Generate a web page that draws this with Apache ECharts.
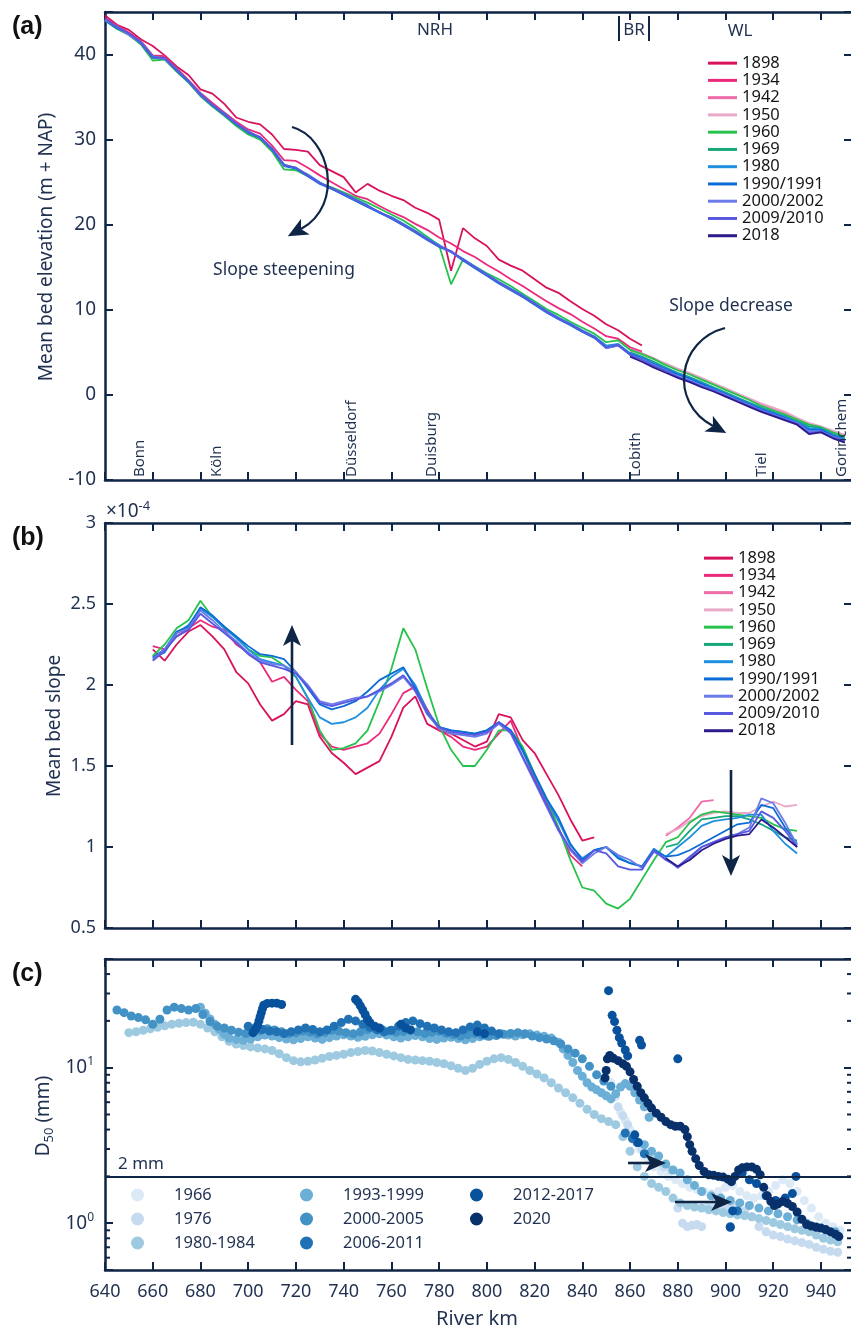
<!DOCTYPE html>
<html>
<head>
<meta charset="utf-8">
<script src="https://cdn.jsdelivr.net/npm/echarts@6/dist/echarts.min.js"></script>
<style>
html, body { margin: 0; padding: 0; background: #fff; }
#chart { width: 851px; height: 1331px; }
</style>
</head>
<body>
<div id="chart"></div>
<script>
// river km grids
const KM_A = [640,645,650,655,660,665,670,675,680,685,690,695,700,705,710,715,720,725,730,735,740,745,750,755,760,765,770,775,780,785,790,795,800,805,810,815,820,825,830,835,840,845,850,855,860,865,870,875,880,885,890,895,900,905,910,915,920,925,930,935,940,945,950];
const KM_A_DE = [640,645,650,655,660,665,670,675,680,685,690,695,700,705,710,715,720,725,730,735,740,745,750,755,760,765,770,775,780,785,790,795,800,805,810,815,820,825,830,835,840,845,850,855,860,865];
const KM_A_NL = [860,865,870,875,880,885,890,895,900,905,910,915,920,925,930,935,940,945,950];

// (a) mean bed elevation, m + NAP
const ELEV_1898 = [44.6,43.5,42.9,41.8,41.0,39.9,38.6,37.6,35.9,35.4,34.2,32.6,32.1,31.8,30.6,28.9,28.8,28.6,27.0,26.3,25.6,23.8,24.8,24.0,23.4,22.9,22.0,21.4,20.6,14.6,19.6,18.4,17.5,15.9,15.2,14.6,13.6,12.6,12.0,11.0,10.1,9.3,8.3,7.6,6.6,5.8];
const ELEV_1934 = [44.3,43.4,42.6,41.6,39.9,39.8,38.4,37.0,35.5,34.3,33.2,32.1,31.2,30.7,29.3,27.6,27.5,26.7,25.8,25.0,24.2,23.4,23.0,22.2,21.5,20.9,20.1,19.4,18.5,17.8,16.9,16.2,15.3,14.5,13.6,12.8,11.9,11.0,10.2,9.5,8.6,7.8,6.9,6.6,5.6,5.1];
const ELEV_1942 = [5.4,4.9,4.3,3.6,3.0,2.5,1.9,1.3,0.7,0.1,-0.5,-1.1,-1.6,-2.1,-2.8,-3.4,-3.8,-4.3,-4.8];
const ELEV_1950 = [5.2,4.8,4.2,3.7,3.1,2.6,2.0,1.4,0.8,0.2,-0.4,-1.0,-1.5,-2.0,-2.7,-3.3,-3.7,-4.2,-4.7];
const ELEV_1960 = [44.0,43.0,42.3,41.2,39.3,39.4,38.0,36.7,35.1,33.9,32.8,31.6,30.6,30.0,28.6,26.5,26.4,25.7,24.9,24.4,23.8,23.2,22.6,21.9,21.2,20.5,19.6,18.6,17.6,13.0,15.9,15.1,14.3,13.6,12.8,11.9,11.0,10.1,9.4,8.6,7.9,7.2,6.2,6.4,5.3,4.8,4.2,3.5,2.9,2.4,1.8,1.2,0.6,0.0,-0.6,-1.3,-1.8,-2.3,-2.9,-3.5,-3.8,-4.4,-4.9];
const ELEV_1969 = [5.0,4.5,3.9,3.2,2.6,2.1,1.5,0.9,0.3,-0.3,-0.9,-1.5,-2.0,-2.5,-3.1,-3.7,-3.9,-4.6,-5.1];
const ELEV_1980 = [44.1,43.3,42.4,41.5,39.8,39.5,38.3,36.8,35.4,34.0,33.1,31.8,31.0,30.2,29.0,27.1,26.6,25.9,25.0,24.2,23.7,23.0,22.3,21.4,20.9,20.1,19.3,18.4,17.6,16.8,16.0,15.1,14.2,13.3,12.5,11.7,10.8,9.9,9.1,8.4,7.6,6.9,5.8,6.0,4.9,4.4,3.7,3.1,2.5,2.0,1.4,0.8,0.2,-0.4,-1.0,-1.6,-2.1,-2.6,-3.2,-3.9,-4.0,-4.7,-5.2];
const ELEV_1990 = [44.0,43.1,42.4,41.3,39.6,39.5,38.1,36.8,35.2,34.0,32.9,31.8,30.8,30.2,28.8,26.9,26.6,25.7,24.8,24.2,23.5,22.8,22.1,21.4,20.7,19.9,19.1,18.2,17.4,16.8,15.8,14.9,14.0,13.1,12.3,11.5,10.6,9.7,8.9,8.2,7.4,6.7,5.5,5.8,4.8,4.3,3.6,3.0,2.4,1.9,1.3,0.7,0.1,-0.5,-1.1,-1.7,-2.2,-2.7,-3.3,-4.1,-4.1,-4.8,-5.3];
const ELEV_2000 = [44.1,43.2,42.3,41.4,39.7,39.5,38.2,36.9,35.2,34.1,33.0,31.9,30.9,30.3,28.9,27.0,26.7,25.8,24.9,24.3,23.6,22.9,22.2,21.5,20.8,20.0,19.2,18.3,17.5,16.8,15.9,15.0,14.1,13.2,12.4,11.6,10.7,9.8,9.0,8.3,7.5,6.8,5.5,5.8,4.7,4.2,3.5,2.9,2.2,1.7,1.1,0.6,0.0,-0.6,-1.2,-1.8,-2.3,-2.8,-3.3,-4.3,-4.3,-4.9,-5.4];
const ELEV_2009 = [44.2,43.2,42.5,41.4,39.7,39.6,38.2,36.9,35.3,34.1,33.0,31.9,30.9,30.3,28.9,27.0,26.7,25.8,24.9,24.3,23.6,22.9,22.2,21.5,20.8,20.0,19.2,18.3,17.5,16.9,15.9,15.0,14.1,13.2,12.4,11.6,10.7,9.8,9.0,8.3,7.5,6.8,5.6,5.9,4.7,4.1,3.4,2.8,2.1,1.6,1.0,0.5,-0.1,-0.7,-1.3,-1.9,-2.4,-2.9,-3.4,-4.5,-4.3,-5.0,-5.5];
const ELEV_2018 = [4.5,3.9,3.2,2.6,2.0,1.5,0.9,0.4,-0.2,-0.8,-1.4,-2.0,-2.5,-3.0,-3.5,-4.6,-4.4,-5.1,-5.6];

// (b) mean bed slope, x 1e-4
const KM_B = [660,665,670,675,680,685,690,695,700,705,710,715,720,725,730,735,740,745,750,755,760,765,770,775,780,785,790,795,800,805,810,815,820,825,830,835,840,845,850,855,860,865,870,875,880,885,890,895,900,905,910,915,920,925,930];
const KM_B_NL = [875,880,885,890,895,900,905,910,915,920,925,930];
const SLOPE_1898 = [2.22,2.15,2.25,2.33,2.37,2.30,2.22,2.08,2.01,1.88,1.78,1.82,1.90,1.88,1.68,1.58,1.52,1.45,1.49,1.53,1.68,1.86,1.93,1.76,1.72,1.70,1.66,1.62,1.65,1.82,1.80,1.66,1.58,1.45,1.32,1.17,1.04,1.06];
const SLOPE_1934 = [2.24,2.22,2.30,2.35,2.40,2.36,2.34,2.25,2.20,2.14,2.02,2.05,1.97,1.90,1.70,1.62,1.60,1.62,1.64,1.70,1.82,1.95,1.99,1.85,1.72,1.68,1.62,1.60,1.62,1.70,1.78,1.60,1.42,1.28,1.12,0.95,0.88];
const SLOPE_1942 = [1.07,1.12,1.18,1.28,1.29];
const SLOPE_1950 = [1.08,1.11,1.16,1.19,1.21,1.22,1.21,1.21,1.25,1.28,1.25,1.26];
const SLOPE_1960 = [2.18,2.25,2.35,2.40,2.52,2.42,2.36,2.30,2.22,2.18,2.17,2.12,2.05,1.92,1.72,1.60,1.61,1.64,1.72,1.90,2.10,2.35,2.22,1.98,1.75,1.60,1.50,1.50,1.60,1.72,1.72,1.62,1.45,1.30,1.12,0.92,0.75,0.73,0.65,0.62,0.68,0.80,0.92,1.03,1.06,1.15,1.20,1.22,1.21,1.20,1.19,1.18,1.14,1.11,1.10];
const SLOPE_1969 = [1.00,1.02,1.10,1.17,1.18,1.19,1.19,1.17,1.14,1.10,1.06,1.04];
const SLOPE_1980 = [2.17,2.20,2.32,2.37,2.47,2.42,2.35,2.29,2.22,2.16,2.14,2.12,2.05,1.92,1.80,1.76,1.77,1.80,1.86,1.97,2.05,2.10,2.00,1.84,1.74,1.72,1.71,1.70,1.72,1.77,1.72,1.59,1.44,1.29,1.16,1.01,0.93,0.98,1.00,0.94,0.90,0.88,0.99,0.94,1.00,1.06,1.13,1.16,1.17,1.18,1.20,1.20,1.10,1.02,0.96];
const SLOPE_1990 = [2.17,2.22,2.33,2.36,2.48,2.43,2.36,2.30,2.24,2.19,2.18,2.16,2.08,1.98,1.88,1.85,1.87,1.90,1.96,2.03,2.07,2.11,1.98,1.82,1.74,1.72,1.71,1.70,1.72,1.77,1.72,1.60,1.45,1.30,1.18,1.02,0.92,0.98,1.00,0.93,0.90,0.88,0.98,0.94,0.95,0.98,1.02,1.06,1.10,1.14,1.15,1.26,1.24,1.12,1.02];
const SLOPE_2000 = [2.16,2.22,2.32,2.35,2.46,2.40,2.33,2.27,2.20,2.15,2.13,2.12,2.08,2.00,1.90,1.88,1.90,1.92,1.93,1.96,2.00,2.05,1.96,1.82,1.73,1.70,1.69,1.68,1.70,1.76,1.70,1.55,1.40,1.25,1.10,0.98,0.90,0.96,1.00,0.95,0.92,0.87,0.97,0.93,0.87,0.93,1.00,1.03,1.06,1.08,1.12,1.30,1.27,1.15,1.01];
const SLOPE_2009 = [2.15,2.21,2.30,2.34,2.44,2.38,2.32,2.26,2.19,2.14,2.12,2.10,2.07,1.99,1.89,1.87,1.89,1.91,1.93,1.97,2.01,2.06,1.97,1.83,1.74,1.71,1.70,1.69,1.71,1.77,1.71,1.56,1.41,1.26,1.11,0.99,0.91,0.98,0.96,0.88,0.86,0.86,0.98,0.92,0.88,0.94,1.00,1.03,1.06,1.08,1.10,1.22,1.18,1.10,1.00];
const SLOPE_2018 = [0.93,0.88,0.92,0.98,1.02,1.05,1.07,1.08,1.17,1.12,1.06,1.00];

// (c) D50 in mm, [river km, D50]
const D50_1966 = [[852,8.0],[854,6.5],[856,5.2],[858,4.6],[860,4.0],[862,3.4],[864,3.0],[866,2.7],[868,2.5],[870,2.3],[873,2.15],[876,2.0],[879,1.9],[882,1.8],[885,1.7],[888,1.65],[891,1.6],[894,1.55],[897,1.6],[900,1.7],[903,1.75],[906,1.6],[909,1.5],[912,1.45],[915,1.5],[918,1.6],[921,1.75],[924,1.9],[927,1.8],[930,1.6],[933,1.4],[936,1.25],[939,1.1],[942,1.0],[945,0.95],[948,0.9]];
const D50_1976 = [[855,5.6],[857,4.9],[859,4.3],[861,3.7],[863,3.3],[865,3.0],[867,2.8],[869,2.6],[871,2.5],[874,2.3],[877,2.2],[880,1.25],[882,1.0],[884,0.95],[886,0.97],[888,0.98],[890,0.95],[893,1.3],[896,1.35],[899,1.3],[902,1.25],[905,1.3],[908,1.2],[911,1.1],[914,0.95],[917,0.88],[920,0.84],[923,0.82],[926,0.79],[929,0.77],[932,0.75],[935,0.73],[938,0.7],[941,0.68],[944,0.66],[947,0.65]];
const D50_1980 = [[650,16.8],[653,17.0],[656,17.4],[659,17.8],[662,18.2],[665,18.6],[668,19.0],[671,19.3],[674,19.5],[677,19.6],[680,19.0],[683,18.0],[686,17.0],[689,15.8],[692,14.8],[695,14.2],[698,13.9],[701,13.6],[704,13.4],[707,13.2],[710,12.9],[713,12.3],[716,11.6],[719,11.1],[722,10.9],[725,11.0],[728,11.2],[731,11.5],[734,11.8],[737,12.0],[740,12.2],[743,12.5],[746,12.7],[749,12.9],[752,12.8],[755,12.5],[758,12.2],[761,11.9],[764,11.6],[767,11.3],[770,11.2],[773,11.1],[776,11.0],[779,10.8],[782,10.6],[785,10.3],[788,9.9],[791,9.6],[794,9.9],[797,10.5],[800,11.0],[803,11.4],[806,11.6],[809,11.3],[812,10.8],[815,10.2],[818,9.6],[821,9.1],[824,8.6],[827,8.0],[830,7.4],[833,6.9],[836,6.4],[839,5.9],[842,5.4],[845,5.0],[848,4.7],[851,4.5],[854,4.3],[857,3.6],[860,2.9],[863,2.3],[866,2.0],[869,1.8],[872,1.7],[875,1.6],[878,1.45],[881,1.35],[884,1.3],[887,1.27],[890,1.25],[893,1.22],[896,1.2],[899,1.17],[902,1.15],[905,1.13],[908,1.12],[911,1.1],[914,1.07],[917,1.04],[920,1.01],[923,0.98],[926,0.95],[929,0.92],[932,0.9],[935,0.88],[938,0.84],[941,0.8],[944,0.78],[947,0.76]];
const D50_1993 = [[680,24.5],[682,22.4],[684,20.6],[686,19.0],[688,17.6],[690,16.4],[692,15.5],[695,15.2],[698,15.0],[701,15.3],[704,15.8],[707,16.2],[710,16.0],[713,15.6],[716,15.3],[719,15.1],[722,15.4],[725,15.8],[728,15.5],[731,15.2],[734,15.6],[737,16.0],[740,16.3],[743,16.0],[746,15.7],[749,15.9],[752,16.3],[755,16.5],[758,16.2],[761,15.8],[764,15.5],[767,15.8],[770,16.1],[773,15.8],[776,15.4],[779,15.2],[782,15.5],[785,15.7],[788,15.4],[791,15.1],[794,15.4],[797,15.8],[800,16.0],[803,16.3],[806,16.5],[809,16.2],[812,16.0],[815,16.3],[818,16.5],[821,16.2],[824,15.9],[827,15.5],[830,14.6],[832,13.2],[834,12.0],[836,10.8],[838,9.6],[840,8.8],[842,8.0],[844,7.5],[846,7.2],[848,6.9],[850,6.6],[852,6.3],[854,6.8],[856,7.5],[858,7.9],[860,7.6],[862,6.9],[864,6.2],[866,5.6],[868,4.8],[866,3.2],[869,2.9],[872,2.7],[875,2.4],[878,2.2],[881,2.1],[884,1.9],[887,1.75],[890,1.6],[894,1.5],[898,1.45],[902,1.4],[906,1.35],[910,1.3],[914,1.25],[918,1.2],[922,1.15],[926,1.1],[930,1.05],[934,1.0],[938,0.95],[942,0.9],[946,0.88]];
const D50_2000 = [[645,23.5],[648,22.6],[651,21.5],[654,21.0],[657,20.3],[660,19.0],[663,20.5],[666,23.5],[669,24.5],[672,24.0],[675,23.5],[678,24.0],[681,22.0],[684,19.8],[687,18.5],[690,18.0],[693,17.4],[696,16.9],[699,16.6],[702,16.8],[705,17.3],[708,17.8],[711,17.5],[714,17.0],[717,16.6],[720,16.8],[723,17.2],[726,16.9],[729,16.5],[732,16.9],[735,17.4],[738,17.2],[741,16.8],[744,16.5],[747,17.0],[750,17.6],[753,18.0],[756,17.6],[759,17.2],[762,16.9],[765,17.1],[768,17.4],[771,17.0],[774,16.6],[777,16.9],[780,17.1],[783,16.6],[786,16.3],[789,16.0],[792,16.3],[795,16.6],[798,16.2],[801,15.9],[804,16.1],[807,16.4],[810,16.6],[813,16.8],[816,16.5],[819,16.0],[822,15.6],[825,15.3],[828,14.9],[831,14.2],[834,13.2],[837,12.4],[840,11.4],[843,10.2],[846,9.0],[849,8.2],[852,7.6]];
const D50_2006 = [[700,18.5],[703,18.0],[706,17.6],[709,17.2],[712,17.0],[715,16.6],[718,17.0],[721,17.5],[724,18.0],[727,17.6],[730,17.0],[733,17.5],[736,18.5],[739,19.5],[742,20.5],[745,20.0],[748,19.0],[751,18.2],[754,17.5],[757,17.0],[760,17.4],[763,18.5],[766,19.5],[769,20.0],[772,19.2],[775,18.5],[778,18.0],[781,17.5],[784,17.0],[787,16.8],[790,17.5],[793,18.3],[796,18.8],[799,18.0],[802,17.2],[805,16.5],[858,3.8],[861,3.5],[863,3.3],[866,2.8],[902,0.95],[905,1.2]];
const D50_2012 = [[702,16.8],[703,17.6],[704,18.8],[704.5,20.0],[705,21.3],[705.5,22.6],[706,24.0],[706.5,25.2],[708,25.9],[710,26.0],[712,26.0],[714,25.5],[745,27.5],[746,26.5],[747,25.0],[748,23.5],[749,22.0],[750,20.5],[751,19.5],[753,18.5],[755,18.0],[764,19.0],[766,18.0],[768,17.5],[796,17.0],[799,16.5],[851,31.3],[852.5,21.7],[853.5,19.8],[854.5,17.4],[855.5,15.6],[856.5,14.4],[858,13.0],[859,11.9],[864,15.0],[864.8,14.0],[880,11.4],[862,3.7],[863.5,3.3],[903,1.2],[902,0.94],[907,2.1],[910,1.9],[913,1.8],[917,1.5],[921,1.4],[925,1.45],[928,1.55],[929.5,2.0]];
const D50_2020 = [[849.5,8.6],[850,9.6],[850.5,11.4],[851.5,12.0],[853,11.5],[855,11.1],[857,10.6],[858.5,10.2],[860,9.4],[861.5,8.4],[863,7.6],[864.5,6.9],[866,6.4],[867.5,5.9],[869,5.5],[871,5.1],[873,4.8],[875,4.5],[877,4.3],[879,4.2],[881,4.2],[883,4.0],[884,3.6],[885,3.2],[886,2.9],[887.5,2.6],[889,2.35],[891,2.15],[893,2.05],[895,2.03],[897,2.0],[899,1.98],[901,1.92],[902.5,1.85],[904,2.0],[905.5,2.2],[907,2.27],[909,2.3],[911,2.3],[913,2.22],[914.5,2.05],[916,1.7],[917.5,1.5],[919,1.38],[920.5,1.3],[922,1.33],[924,1.38],[926,1.34],[928,1.28],[930,1.18],[932,1.06],[934,0.98],[936,0.96],[938,0.94],[940,0.93],[942,0.91],[944,0.88],[946,0.85],[947.5,0.82]];

const TWO_MM = 2;
const MINOR_D50 = [0.6,0.7,0.8,0.9,2,3,4,5,6,7,8,9,20,30,40];

const YEARS = ['1898','1934','1942','1950','1960','1969','1980','1990/1991','2000/2002','2009/2010','2018'];
const PERIODS = ['1966','1976','1980-1984','1993-1999','2000-2005','2006-2011','2012-2017','2020'];

// styles
const YEAR_COLORS = ['#d8125c','#ec2a7c','#f06ca8','#e8a9c8','#27c24c','#17a77a','#1f8fdf','#0b6cd6','#6b7ce9','#5757e0','#2d1b8c'];
const PERIOD_COLORS = ['#dce9f6','#c6dbef','#9ecae1','#6baed6','#4292c6','#2171b5','#08519c','#08306b'];
const FONT = '"Noto Sans", "DejaVu Sans", sans-serif';
const NAVY = '#0f2545';
const INK = '#1f3050';

function pairs(km, vals) {
    return vals.map(function (v, i) { return [km[i], v]; });
}

const elevData = [
    [KM_A_DE, ELEV_1898], [KM_A_DE, ELEV_1934], [KM_A_NL, ELEV_1942], [KM_A_NL, ELEV_1950],
    [KM_A, ELEV_1960], [KM_A_NL, ELEV_1969], [KM_A, ELEV_1980], [KM_A, ELEV_1990],
    [KM_A, ELEV_2000], [KM_A, ELEV_2009], [KM_A_NL, ELEV_2018]
];
const slopeData = [
    [KM_B, SLOPE_1898], [KM_B, SLOPE_1934], [KM_B_NL, SLOPE_1942], [KM_B_NL, SLOPE_1950],
    [KM_B, SLOPE_1960], [KM_B_NL, SLOPE_1969], [KM_B, SLOPE_1980], [KM_B, SLOPE_1990],
    [KM_B, SLOPE_2000], [KM_B, SLOPE_2009], [KM_B_NL, SLOPE_2018]
];
const d50Data = [D50_1966, D50_1976, D50_1980, D50_1993, D50_2000, D50_2006, D50_2012, D50_2020];

function xAxisFor(gridIndex, position, showLabel) {
    return {
        type: 'value', gridIndex: gridIndex, position: position,
        min: 640, max: 953, interval: 20,
        axisLine: { show: true, onZero: false, lineStyle: { color: NAVY, width: 2.5 } },
        axisTick: { show: true, inside: true, length: 8, lineStyle: { color: NAVY, width: 2 } },
        axisLabel: {
            show: showLabel, color: INK, fontSize: 18, fontFamily: FONT, margin: 13,
            formatter: function (v) { return v % 20 === 0 ? String(v) : ''; }
        },
        splitLine: { show: false }
    };
}

function yAxisFor(gridIndex, position, min, max, interval, showLabel, fontSize) {
    return {
        type: 'value', gridIndex: gridIndex, position: position,
        min: min, max: max, interval: interval,
        axisLine: { show: true, onZero: false, lineStyle: { color: NAVY, width: 2.5 } },
        axisTick: { show: true, inside: true, length: 8, lineStyle: { color: NAVY, width: 2 } },
        axisLabel: {
            show: showLabel, color: INK, fontSize: fontSize, fontFamily: FONT, margin: 9,
            formatter: function (v) {
                const k = Math.round((v - min) / interval);
                return Math.abs(min + k * interval - v) < 1e-9 ? String(+v.toFixed(2)) : '';
            }
        },
        splitLine: { show: false }
    };
}

function logAxisFor(gridIndex, position, showLabel) {
    return {
        type: 'log', logBase: 10, gridIndex: gridIndex, position: position,
        min: 0.5, max: 50,
        axisLine: { show: true, onZero: false, lineStyle: { color: NAVY, width: 2.5 } },
        axisTick: { show: true, inside: true, length: 8, lineStyle: { color: NAVY, width: 2 } },
        axisLabel: {
            show: showLabel, margin: 11, fontFamily: FONT,
            formatter: function (v) {
                const lg = Math.log10(v);
                if (Math.abs(lg - Math.round(lg)) < 1e-6) return '{b|10}{s|' + Math.round(lg) + '}';
                return '';
            },
            rich: {
                b: { fontSize: 19, color: INK, fontFamily: FONT, lineHeight: 24 },
                s: { fontSize: 12, color: INK, fontFamily: FONT, verticalAlign: 'top' }
            }
        },
        splitLine: { show: false }
    };
}

const series = [];
elevData.forEach(function (d, i) {
    series.push({
        name: YEARS[i], type: 'line', xAxisIndex: 0, yAxisIndex: 0,
        data: pairs(d[0], d[1]), showSymbol: false, symbol: 'none',
        lineStyle: { color: YEAR_COLORS[i], width: 1.8 }, itemStyle: { color: YEAR_COLORS[i] },
        emphasis: { disabled: true }, z: 2 + i * 0.01
    });
});
slopeData.forEach(function (d, i) {
    series.push({
        name: YEARS[i], type: 'line', xAxisIndex: 2, yAxisIndex: 2,
        data: pairs(d[0], d[1]), showSymbol: false, symbol: 'none',
        lineStyle: { color: YEAR_COLORS[i], width: 1.8 }, itemStyle: { color: YEAR_COLORS[i] },
        emphasis: { disabled: true }, z: 2 + i * 0.01
    });
});
d50Data.forEach(function (d, i) {
    const s = {
        name: PERIODS[i], type: 'scatter', xAxisIndex: 4, yAxisIndex: 4,
        data: d, symbol: 'circle', symbolSize: 9,
        itemStyle: { color: PERIOD_COLORS[i], opacity: 1 },
        emphasis: { disabled: true }
    };
    if (i === d50Data.length - 1) {
        s.markLine = {
            silent: true, symbol: ['none', 'none'], label: { show: false },
            lineStyle: { color: NAVY, width: 2, type: 'solid' },
            data: [{ yAxis: TWO_MM }]
        };
    }
    series.push(s);
});
// minor log ticks on both sides of panel (c)
series.push({
    type: 'custom', xAxisIndex: 4, yAxisIndex: 4, silent: true, clip: false,
    data: MINOR_D50.map(function (v) { return [640, v]; }),
    renderItem: function (params, api) {
        const l = api.coord([640, api.value(1)]);
        const r = api.coord([953, api.value(1)]);
        return {
            type: 'group', children: [
                { type: 'line', shape: { x1: l[0], y1: l[1], x2: l[0] + 5, y2: l[1] }, style: { stroke: NAVY, lineWidth: 2 } },
                { type: 'line', shape: { x1: r[0] - 5, y1: r[1], x2: r[0], y2: r[1] }, style: { stroke: NAVY, lineWidth: 2 } }
            ]
        };
    }
});

function lineLegend(top, left) {
    return {
        orient: 'vertical', left: left, top: top, icon: 'rect', padding: 0,
        itemWidth: 29, itemHeight: 3, itemGap: 0, selectedMode: false,
        textStyle: { fontSize: 16.5, lineHeight: 17.26, color: '#161616', fontFamily: FONT },
        data: YEARS
    };
}
function dotLegend(names, left) {
    return {
        orient: 'vertical', left: left, top: 1183, icon: 'circle', padding: 0,
        itemWidth: 13, itemHeight: 13, itemGap: 0, selectedMode: false,
        textStyle: { fontSize: 16.5, lineHeight: 24, color: INK, fontFamily: FONT, padding: [0, 0, 0, 25] },
        data: names
    };
}

function arrowHead(tx, ty, ang, len, hw) {
    const c = Math.cos(ang), s = Math.sin(ang);
    const bx = tx - len * c, by = ty - len * s;
    const nx = tx - 0.75 * len * c, ny = ty - 0.75 * len * s;
    return {
        type: 'polygon', silent: true, z: 100,
        shape: { points: [[tx, ty], [bx - hw * s, by + hw * c], [nx, ny], [bx + hw * s, by - hw * c]] },
        style: { fill: NAVY }
    };
}
function straightArrow(x1, y1, x2, y2) {
    const ang = Math.atan2(y2 - y1, x2 - x1);
    return [
        { type: 'line', silent: true, z: 100, shape: { x1: x1, y1: y1, x2: x2 - 14 * Math.cos(ang), y2: y2 - 14 * Math.sin(ang) }, style: { stroke: NAVY, lineWidth: 2.6 } },
        arrowHead(x2, y2, ang, 21, 9)
    ];
}
function curvedArrow(p) {
    const ang = Math.atan2(p[7] - p[5], p[6] - p[4]);
    return [
        { type: 'bezierCurve', silent: true, z: 100, shape: { x1: p[0], y1: p[1], cpx1: p[2], cpy1: p[3], cpx2: p[4], cpy2: p[5], x2: p[6], y2: p[7] }, style: { stroke: NAVY, lineWidth: 2.2, fill: null } },
        arrowHead(p[6] + 15 * Math.cos(ang), p[7] + 15 * Math.sin(ang), ang, 20, 9)
    ];
}
function label(x, y, text, size, extra) {
    const st = { text: text, fill: INK, fontSize: size, fontFamily: FONT, align: 'center', verticalAlign: 'middle' };
    Object.assign(st, extra || {});
    return { type: 'text', x: x, y: y, z: 100, silent: true, style: st };
}
function vlabel(x, y, text, size) {
    return { type: 'text', x: x, y: y, z: 100, rotation: Math.PI / 2, silent: true,
        style: { text: text, fill: INK, fontSize: size, fontFamily: FONT, align: 'left', verticalAlign: 'middle' } };
}

const BOLD = { fill: '#111', fontWeight: 'bold', fontFamily: '"Liberation Sans", Arial, sans-serif', align: 'left' };
const graphics = [
    label(12, 27, '(a)', 25, BOLD),
    label(12, 538, '(b)', 25, BOLD),
    label(12, 974, '(c)', 25, BOLD),
    { type: 'text', x: 47, y: 247, rotation: Math.PI / 2, silent: true,
      style: { text: 'Mean bed elevation (m + NAP)', fill: INK, fontSize: 19, fontFamily: FONT, align: 'center', verticalAlign: 'middle' } },
    { type: 'text', x: 55, y: 726, rotation: Math.PI / 2, silent: true,
      style: { text: 'Mean bed slope', fill: INK, fontSize: 19, fontFamily: FONT, align: 'center', verticalAlign: 'middle' } },
    { type: 'text', x: 44, y: 1116, rotation: Math.PI / 2, silent: true,
      style: { text: '{a|D}{s|50}{a| (mm)}', fill: INK, fontFamily: FONT, align: 'center', verticalAlign: 'middle',
        rich: { a: { fontSize: 19, fill: INK, fontFamily: FONT, lineHeight: 24 }, s: { fontSize: 13, fill: INK, fontFamily: FONT, verticalAlign: 'bottom' } } } },
    label(477, 1319, 'River km', 20),
    { type: 'text', x: 106, y: 512, silent: true,
      style: { text: '{a|×10}{s|-4}', fill: INK, fontFamily: FONT, align: 'left', verticalAlign: 'middle',
        rich: { a: { fontSize: 19, fill: INK, fontFamily: FONT, lineHeight: 24 }, s: { fontSize: 13, fill: INK, fontFamily: FONT, verticalAlign: 'top' } } } },
    label(435, 30, 'NRH', 17),
    label(634, 30, 'BR', 17),
    label(740, 31, 'WL', 17),
    { type: 'line', silent: true, shape: { x1: 619, y1: 16, x2: 619, y2: 41 }, style: { stroke: NAVY, lineWidth: 2 } },
    { type: 'line', silent: true, shape: { x1: 649, y1: 16, x2: 649, y2: 41 }, style: { stroke: NAVY, lineWidth: 2 } },
    vlabel(139.5, 477, 'Bonn', 15),
    vlabel(217, 477, 'Köln', 15),
    vlabel(352, 477, 'Düsseldorf', 15),
    vlabel(432, 477, 'Duisburg', 15),
    vlabel(636, 477, 'Lobith', 15),
    vlabel(762, 477, 'Tiel', 15),
    vlabel(842, 477, 'Gorinchem', 15),
    label(284, 270, 'Slope steepening', 17.5),
    label(731, 306, 'Slope decrease', 17.5),
    label(141, 1164, '2 mm', 17)
]
.concat(curvedArrow([292, 127, 330, 137, 345, 205, 301, 229]))
.concat(curvedArrow([725, 328, 678, 340, 668, 402, 713, 426]))
.concat(straightArrow(292, 745, 292, 625))
.concat(straightArrow(731, 770, 731, 876))
.concat(straightArrow(628, 1163, 666, 1163))
.concat(straightArrow(675, 1202, 732, 1202));

const chart = echarts.init(document.getElementById('chart'), null, { renderer: 'canvas' });
chart.setOption({
    animation: false,
    backgroundColor: '#ffffff',
    textStyle: { fontFamily: FONT },
    grid: [
        { left: 105, top: 12, width: 747, height: 468, outerBoundsMode: 'none' },
        { left: 105, top: 523, width: 747, height: 405, outerBoundsMode: 'none' },
        { left: 105, top: 959, width: 747, height: 311, outerBoundsMode: 'none' }
    ],
    xAxis: [
        xAxisFor(0, 'bottom', false), xAxisFor(0, 'top', false),
        xAxisFor(1, 'bottom', false), xAxisFor(1, 'top', false),
        xAxisFor(2, 'bottom', true), xAxisFor(2, 'top', false)
    ],
    yAxis: [
        yAxisFor(0, 'left', -10, 45, 10, true, 19), yAxisFor(0, 'right', -10, 45, 10, false, 19),
        yAxisFor(1, 'left', 0.5, 3, 0.5, true, 18), yAxisFor(1, 'right', 0.5, 3, 0.5, false, 18),
        logAxisFor(2, 'left', true), logAxisFor(2, 'right', false)
    ],
    legend: [
        lineLegend(54.5, 708),
        lineLegend(549.5, 704),
        dotLegend(PERIODS.slice(0, 3), 131),
        dotLegend(PERIODS.slice(3, 6), 300),
        dotLegend(PERIODS.slice(6), 470)
    ],
    series: series,
    graphic: graphics
});
</script>
</body>
</html>
